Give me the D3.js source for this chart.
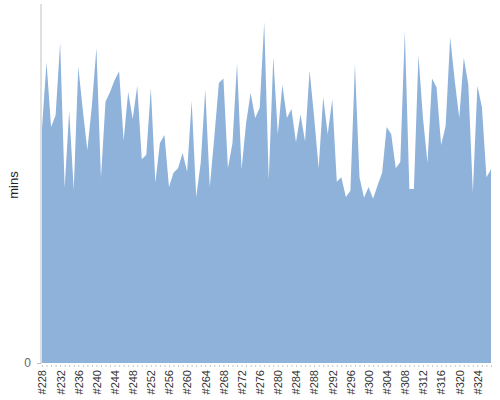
<!DOCTYPE html>
<html>
<head>
<meta charset="utf-8">
<script src="https://cdn.jsdelivr.net/npm/d3@7"></script>
<style>
  body { margin: 0; background: #fff; }
  svg { display: block; font-family: "Liberation Sans", Arial, sans-serif; }
</style>
</head>
<body>
<svg id="chart" width="500" height="400"></svg>
<script>
//////////////////// DATA ////////////////////
// run numbers #228 .. #327
const runIds = d3.range(228, 328).map(n => "#" + n);

// duration of each run (mins)
const durations = [
    26.2, 33.5, 26.3, 27.6, 35.7, 19.5, 28.1, 19.3, 33.0, 28.2,
    23.7, 28.7, 35.1, 20.6, 29.1, 30.2, 31.5, 32.5, 24.8, 30.2,
    27.2, 30.9, 22.7, 23.2, 30.6, 20.1, 24.5, 25.4, 19.6, 21.2,
    21.7, 23.4, 21.3, 29.2, 18.5, 22.3, 30.5, 19.6, 25.2, 31.2,
    31.7, 21.7, 24.5, 33.4, 21.6, 26.7, 30.1, 27.3, 28.4, 38.0,
    20.4, 34.1, 25.5, 31.0, 27.3, 28.3, 24.6, 27.7, 24.7, 32.6,
    27.4, 21.7, 29.6, 25.5, 29.4, 20.2, 20.7, 18.5, 19.2, 33.3,
    20.7, 18.4, 19.6, 18.3, 19.8, 21.2, 26.3, 25.5, 21.7, 22.4,
    37.0, 19.4, 19.4, 34.3, 27.3, 22.3, 31.7, 30.7, 24.3, 26.4,
    36.3, 31.5, 27.3, 34.0, 31.0, 19.0, 30.9, 28.5, 20.7, 21.6
];

// y range and tick labels
const yMax = 40;
const yTicks = [0];
const xLabelEvery = 4;

//////////////////// SIZES ////////////////////
const svg = d3.select("#chart");
const plot = { left: 42, right: 491, top: 4, bottom: 363 };

//////////////////// SCALES ////////////////////
const x = d3.scalePoint()
    .domain(runIds)
    .range([plot.left, plot.right]);

const y = d3.scaleLinear()
    .domain([0, yMax])
    .range([plot.bottom, plot.top]);

//////////////////// AREA ////////////////////
const area = d3.area()
    .x((d, i) => x(runIds[i]))
    .y0(y(0))
    .y1(d => y(d));

svg.append("path")
    .datum(durations)
    .attr("fill", "#8fb2da")
    .attr("d", area);

//////////////////// Y AXIS ////////////////////
svg.append("line")
    .attr("x1", plot.left - 1).attr("x2", plot.left - 1)
    .attr("y1", plot.top).attr("y2", plot.bottom + 1)
    .attr("stroke", "#c0c0c0");

const yAxis = svg.append("g")
    .attr("transform", `translate(${plot.left - 1},0)`)
    .call(d3.axisLeft(y).tickValues(yTicks).tickSize(4).tickPadding(6));
yAxis.select(".domain").remove();
yAxis.selectAll("line").attr("stroke", "#c0c0c0");
yAxis.selectAll("text")
    .attr("fill", "#666")
    .style("font-size", "12px");

// y label
svg.append("text")
    .attr("transform", "translate(18,185) rotate(-90)")
    .attr("text-anchor", "middle")
    .attr("fill", "#222")
    .style("font-size", "13px")
    .text("mins");

//////////////////// X AXIS ////////////////////
const xAxis = svg.append("g")
    .attr("transform", `translate(0,${plot.bottom + 2})`)
    .call(d3.axisBottom(x)
        .tickSize(2)
        .tickPadding(4)
        .tickFormat((d, i) => i % xLabelEvery === 0 ? d : ""));
xAxis.select(".domain").remove();
xAxis.selectAll("line").attr("stroke", "#c8c8c8");
xAxis.selectAll("text")
    .attr("fill", "#333")
    .style("font-size", "11px")
    .attr("text-anchor", "end")
    .attr("transform", "rotate(-90)")
    .attr("x", -5)
    .attr("y", 0)
    .attr("dy", "0.35em");
</script>
</body>
</html>
